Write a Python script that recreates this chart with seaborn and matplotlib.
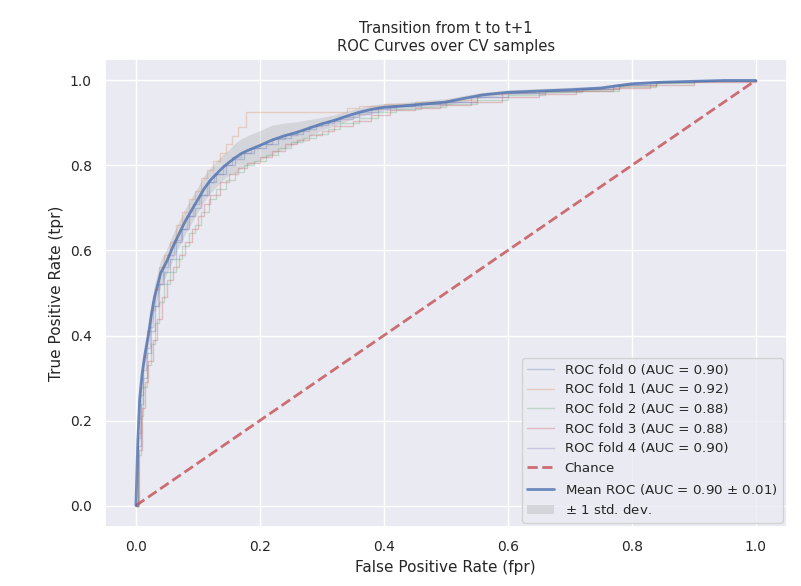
import numpy as np
import pandas as pd
import matplotlib
matplotlib.use("Agg")
import matplotlib.pyplot as plt
import seaborn as sns

# ---- data ----
fold_names = ["ROC fold 0 (AUC = 0.90)", "ROC fold 1 (AUC = 0.92)",
              "ROC fold 2 (AUC = 0.88)", "ROC fold 3 (AUC = 0.88)",
              "ROC fold 4 (AUC = 0.90)"]

fold0_fpr = [0, 0.004, 0.008, 0.012, 0.018, 0.024, 0.03, 0.038, 0.046, 0.055,
             0.065, 0.075, 0.085, 0.095, 0.105, 0.118, 0.13, 0.145, 0.16, 0.175,
             0.19, 0.21, 0.23, 0.25, 0.27, 0.29, 0.31, 0.33, 0.36, 0.39,
             0.42, 0.46, 0.5, 0.55, 0.6, 0.66, 0.72, 0.78, 0.84, 0.9, 1.0]
fold0_tpr = [0, 0.14, 0.24, 0.30, 0.36, 0.41, 0.47, 0.52, 0.55, 0.58,
             0.62, 0.65, 0.68, 0.70, 0.73, 0.76, 0.78, 0.80, 0.815, 0.83,
             0.84, 0.85, 0.865, 0.875, 0.885, 0.895, 0.905, 0.915, 0.925, 0.935,
             0.94, 0.945, 0.95, 0.962, 0.97, 0.975, 0.98, 0.99, 0.996, 0.999, 1.0]

fold1_fpr = [0, 0.004, 0.008, 0.012, 0.018, 0.024, 0.03, 0.038, 0.046, 0.055,
             0.065, 0.075, 0.085, 0.095, 0.105, 0.115, 0.125, 0.135, 0.145, 0.155,
             0.165, 0.178, 0.325, 0.34, 0.36, 0.4, 0.45, 0.5, 0.55, 0.6,
             0.66, 0.72, 0.78, 0.84, 0.9, 1.0]
fold1_tpr = [0, 0.17, 0.28, 0.35, 0.41, 0.46, 0.51, 0.56, 0.59, 0.62,
             0.66, 0.69, 0.72, 0.74, 0.77, 0.79, 0.81, 0.83, 0.85, 0.87,
             0.89, 0.926, 0.926, 0.935, 0.94, 0.945, 0.95, 0.955, 0.968, 0.972,
             0.976, 0.98, 0.988, 0.996, 0.999, 1.0]

fold2_fpr = [0, 0.004, 0.008, 0.012, 0.018, 0.024, 0.03, 0.038, 0.046, 0.055,
             0.065, 0.075, 0.085, 0.095, 0.105, 0.118, 0.13, 0.145, 0.16, 0.175,
             0.19, 0.21, 0.23, 0.25, 0.27, 0.29, 0.31, 0.33, 0.36, 0.39,
             0.42, 0.46, 0.5, 0.55, 0.6, 0.66, 0.72, 0.78, 0.84, 0.9, 1.0]
fold2_tpr = [0, 0.12, 0.21, 0.28, 0.33, 0.38, 0.43, 0.48, 0.52, 0.55,
             0.58, 0.61, 0.64, 0.66, 0.69, 0.72, 0.745, 0.765, 0.785, 0.80,
             0.81, 0.825, 0.84, 0.855, 0.865, 0.875, 0.885, 0.9, 0.912, 0.925,
             0.932, 0.938, 0.945, 0.955, 0.965, 0.972, 0.976, 0.985, 0.994, 0.998, 1.0]

fold3_fpr = [0, 0.005, 0.01, 0.015, 0.02, 0.027, 0.034, 0.042, 0.05, 0.06,
             0.07, 0.08, 0.09, 0.1, 0.11, 0.12, 0.135, 0.15, 0.165, 0.18,
             0.2, 0.22, 0.24, 0.26, 0.28, 0.3, 0.32, 0.35, 0.38, 0.41,
             0.45, 0.49, 0.54, 0.59, 0.65, 0.71, 0.77, 0.83, 0.9, 1.0]
fold3_tpr = [0, 0.13, 0.23, 0.29, 0.34, 0.39, 0.44, 0.49, 0.53, 0.56,
             0.59, 0.62, 0.65, 0.68, 0.71, 0.73, 0.76, 0.78, 0.795, 0.805,
             0.82, 0.835, 0.85, 0.86, 0.872, 0.882, 0.892, 0.905, 0.918, 0.93,
             0.936, 0.942, 0.95, 0.962, 0.968, 0.974, 0.982, 0.99, 0.997, 1.0]

fold4_fpr = [0, 0.003, 0.007, 0.011, 0.016, 0.022, 0.028, 0.035, 0.043, 0.052,
             0.062, 0.072, 0.082, 0.092, 0.102, 0.114, 0.126, 0.14, 0.155, 0.17,
             0.185, 0.2, 0.22, 0.24, 0.26, 0.28, 0.3, 0.32, 0.35, 0.38,
             0.41, 0.45, 0.49, 0.54, 0.59, 0.65, 0.71, 0.77, 0.83, 0.9, 1.0]
fold4_tpr = [0, 0.16, 0.26, 0.32, 0.37, 0.42, 0.47, 0.52, 0.56, 0.59,
             0.625, 0.65, 0.68, 0.71, 0.73, 0.76, 0.78, 0.80, 0.82, 0.83,
             0.84, 0.85, 0.862, 0.872, 0.882, 0.892, 0.9, 0.91, 0.922, 0.932,
             0.94, 0.945, 0.95, 0.962, 0.97, 0.975, 0.98, 0.99, 0.996, 0.999, 1.0]

mean_fpr = [0, 0.003, 0.006, 0.01, 0.015, 0.02, 0.025, 0.03,
            0.04, 0.05, 0.06, 0.07, 0.08, 0.09, 0.1, 0.11, 0.12, 0.13, 0.14, 0.15,
            0.16, 0.17, 0.18, 0.19, 0.2,
            0.22, 0.24, 0.26, 0.28, 0.3, 0.32, 0.34, 0.36, 0.38, 0.4,
            0.43, 0.46, 0.5, 0.53, 0.56,
            0.6, 0.65, 0.7, 0.75, 0.8, 0.85, 0.9, 0.95, 1.0]
mean_tpr = [0, 0.15, 0.25, 0.31, 0.36, 0.40, 0.45, 0.49,
            0.547, 0.575, 0.61, 0.64, 0.67, 0.695, 0.72, 0.745, 0.765, 0.78, 0.795, 0.807,
            0.818, 0.828, 0.835, 0.841, 0.847,
            0.86, 0.87, 0.878, 0.888, 0.898, 0.906, 0.916, 0.925, 0.932, 0.937,
            0.94, 0.944, 0.949, 0.958, 0.966,
            0.972, 0.975, 0.978, 0.982, 0.992, 0.996, 0.998, 1.0, 1.0]
std_tpr = [0, 0.01, 0.015, 0.02, 0.022, 0.025, 0.028, 0.03,
           0.03, 0.03, 0.03, 0.03, 0.03, 0.03, 0.03, 0.03, 0.03, 0.03, 0.03, 0.03,
           0.035, 0.035, 0.035, 0.035, 0.035,
           0.035, 0.03, 0.025, 0.02, 0.015, 0.013, 0.012, 0.01, 0.01, 0.009,
           0.008, 0.008, 0.008, 0.007, 0.006,
           0.006, 0.006, 0.006, 0.005, 0.005, 0.003, 0.002, 0.001, 0]

chance_x = [0, 1]
chance_y = [0, 1]

fold_fprs = [fold0_fpr, fold1_fpr, fold2_fpr, fold3_fpr, fold4_fpr]
fold_tprs = [fold0_tpr, fold1_tpr, fold2_tpr, fold3_tpr, fold4_tpr]

# ---- plotting ----
sns.set_theme(style="darkgrid")
plt.rcParams['font.family'] = ['DejaVu Sans']

fig, ax = plt.subplots(figsize=(8.01, 5.86), dpi=100)
fig.subplots_adjust(left=0.131, right=0.982, top=0.899, bottom=0.101)

pal = sns.color_palette("deep")
for i, (fx, fy) in enumerate(zip(fold_fprs, fold_tprs)):
    df = pd.DataFrame({"fpr": fx, "tpr": fy})
    sns.lineplot(data=df, x="fpr", y="tpr", ax=ax, sort=False, estimator=None,
                 color=pal[i], lw=1, alpha=0.3, label=fold_names[i],
                 drawstyle="steps-post")

sns.lineplot(x=chance_x, y=chance_y, ax=ax, color="r", lw=2, alpha=0.8,
             linestyle="--", label="Chance")

dfm = pd.DataFrame({"fpr": mean_fpr, "tpr": mean_tpr})
sns.lineplot(data=dfm, x="fpr", y="tpr", ax=ax, sort=False, estimator=None,
             color="b", lw=2, alpha=0.8,
             label=r"Mean ROC (AUC = 0.90 $\pm$ 0.01)")

m = np.array(mean_tpr)
s = np.array(std_tpr)
ax.fill_between(mean_fpr, np.maximum(m - s, 0), np.minimum(m + s, 1),
                color="grey", alpha=0.2, lw=0, label=r"$\pm$ 1 std. dev.")

ax.set_xlim(-0.05, 1.05)
ax.set_ylim(-0.05, 1.05)
ax.set_xlabel("False Positive Rate (fpr)", fontsize=11)
ax.set_ylabel("True Positive Rate (tpr)", fontsize=11)
ax.set_title("Transition from t to t+1\nROC Curves over CV samples", fontsize=10.6)
ax.tick_params(labelsize=10)
ax.legend(loc="lower right", fontsize=9.6, borderaxespad=0.3)

fig.savefig("out.png", dpi=100)
